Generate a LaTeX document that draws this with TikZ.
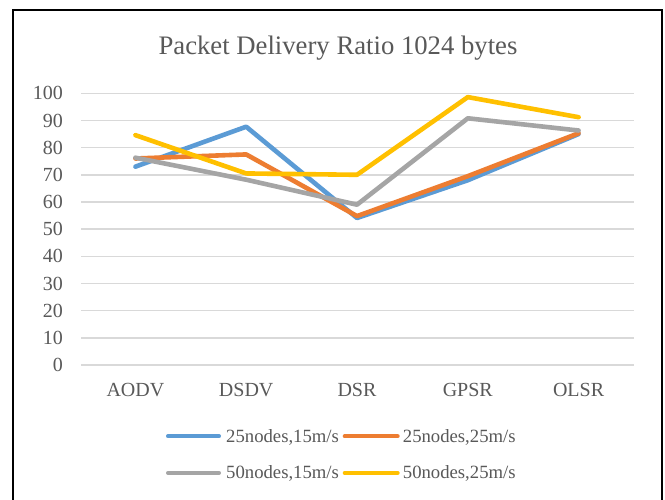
\documentclass[tikz,border=0pt]{standalone}
\usepackage{fontspec}
\setmainfont{Liberation Serif}
\usetikzlibrary{positioning}

\definecolor{sblue}{HTML}{5B9BD5}
\definecolor{sorange}{HTML}{ED7D31}
\definecolor{sgray}{HTML}{A5A5A5}
\definecolor{syellow}{HTML}{FFC000}
\definecolor{txtgray}{HTML}{595959}
\definecolor{gridgray}{HTML}{D9D9D9}

\tikzset{
  series/.style={line width=4.6pt,line cap=round,line join=round},
  gridline/.style={draw=gridgray,line width=1.4pt},
  lbl/.style={text=txtgray,font=\fontsize{20}{24}\selectfont,inner sep=0pt},
  lgd/.style={text=txtgray,font=\fontsize{18.7}{22}\selectfont,inner sep=0pt,anchor=base west},
}

\begin{document}
\begin{tikzpicture}[x=1pt,y=1pt]
\useasboundingbox (0,0) rectangle (665,500);
\fill[white] (0,0) rectangle (665,500);
\draw[line width=2pt] (13,-5) -- (13,490) -- (662,490) -- (662,-5);

\node[lbl,font=\fontsize{26.7}{30}\selectfont,anchor=base] (title) at (338,445) {Packet Delivery Ratio 1024 bytes};

% value axis and grid
\foreach \v in {0,10,...,100} {
  \draw[gridline] (81,{135+2.717*\v}) -- (634,{135+2.717*\v});
  \node[lbl,anchor=east] (tick\v) at (63,{135+2.717*\v}) {\v};
}

% categories
\foreach \c [count=\i from 0] in {AODV,DSDV,DSR,GPSR,OLSR}
  \node[lbl,anchor=base] (cat\c) at ({135.4+110.8*\i},103.3) {\c};

% series
\begin{scope}[shift={(0,135)},y=2.717pt]
\draw[series,sblue] (135.4,73) -- (246.2,87.7) -- (357,54.1) -- (467.8,68) -- (578.6,85);
\draw[series,sorange] (135.4,76) -- (246.2,77.5) -- (357,54.8) -- (467.8,69.5) -- (578.6,85.3);
\draw[series,sgray] (135.4,76.3) -- (246.2,68.2) -- (357,59) -- (467.8,90.8) -- (578.6,86.3);
\draw[series,syellow] (135.4,84.6) -- (246.2,70.5) -- (357,70) -- (467.8,98.6) -- (578.6,91.2);
\end{scope}

% legend
\node[lgd] (lgA) at (226,57.7) {25nodes,15m/s};
\node[lgd] (lgB) at (402.7,57.7) {25nodes,25m/s};
\node[lgd] (lgC) at (226,21.1) {50nodes,15m/s};
\node[lgd] (lgD) at (402.7,21.1) {50nodes,25m/s};
\draw[series,line width=4pt,sblue] ([xshift=-7pt,yshift=6pt]lgA.base west) -- ++(-51,0);
\draw[series,line width=4pt,sorange] ([xshift=-5pt,yshift=6pt]lgB.base west) -- ++(-53,0);
\draw[series,line width=4pt,sgray] ([xshift=-7pt,yshift=6pt]lgC.base west) -- ++(-51,0);
\draw[series,line width=4pt,syellow] ([xshift=-5pt,yshift=6pt]lgD.base west) -- ++(-53,0);

\end{tikzpicture}
\end{document}
